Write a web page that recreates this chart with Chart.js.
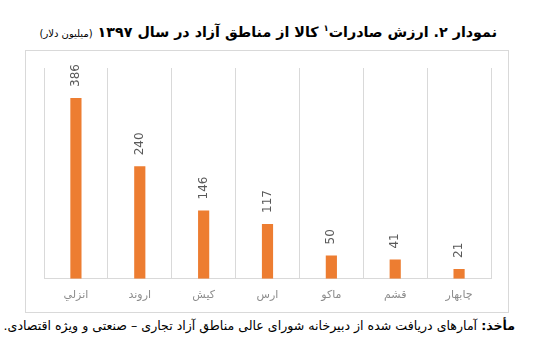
<!DOCTYPE html>
<html lang="fa">
<head>
    <meta charset="UTF-8">
    <title>ارزش صادرات کالا از مناطق آزاد</title>
    <script src="https://cdn.jsdelivr.net/npm/chart.js"></script>
    <style>
        body {
            margin: 0;
            padding: 0;
            background: white;
            width: 539px;
            height: 353px;
            position: relative;
            overflow: hidden;
            font-family: "DejaVu Sans", sans-serif;
        }
        .line {
            position: absolute;
            direction: rtl;
            white-space: nowrap;
            color: #000;
            line-height: 1;
        }
        #title {
            top: 24px;
            right: 42px;
            font-size: 14px;
            font-weight: bold;
        }
        #title .unit {
            font-size: 0.7em;
            font-weight: normal;
        }
        #title sup {
            font-size: 0.6em;
        }
        #chart-box {
            position: absolute;
            left: 25px;
            top: 50px;
            width: 482px;
            height: 261px;
            border: 1px solid #d9d9d9;
        }
        #source {
            top: 320px;
            right: 24px;
            font-size: 12.5px;
        }
    </style>
</head>
<body>
    <div id="title" class="line">نمودار ۲. ارزش صادرات<sup>۱</sup> کالا از مناطق آزاد در سال ۱۳۹۷ <span class="unit">(میلیون دلار)</span></div>

    <div id="chart-box">
        <canvas id="export-chart" width="482" height="261"></canvas>
    </div>

    <div id="source" class="line"><b>مأخذ:</b> آمارهای دریافت شده از دبیرخانه شورای عالی مناطق آزاد تجاری – صنعتی و ویژه اقتصادی.</div>

    <script>
        // free zones, left to right as in the picture
        var zones = ['انزلي', 'اروند', 'کیش', 'ارس', 'ماکو', 'قشم', 'چابهار'];
        // export value, million dollars
        var exportValues = [386, 240, 146, 117, 50, 41, 21];

        // squeeze a line of text to a given width
        function fitWidth(el, target) {
            var size = parseFloat(getComputedStyle(el).fontSize);
            var w = el.getBoundingClientRect().width;
            el.style.fontSize = (size * target / w) + 'px';
        }
        fitWidth(document.getElementById('title'), 458);
        fitWidth(document.getElementById('source'), 512);

        // rotated value labels above each bar
        var barLabels = {
            id: 'barLabels',
            afterDatasetsDraw: function (chart) {
                var ctx = chart.ctx;
                var meta = chart.getDatasetMeta(0);
                ctx.save();
                ctx.fillStyle = '#595959';
                ctx.font = '12px "DejaVu Sans"';
                ctx.textAlign = 'left';
                ctx.textBaseline = 'middle';
                meta.data.forEach(function (bar, i) {
                    ctx.save();
                    ctx.translate(bar.x, bar.y - 11);
                    ctx.rotate(-Math.PI / 2);
                    ctx.fillText(String(exportValues[i]), 0, 0);
                    ctx.restore();
                });
                ctx.restore();
            }
        };

        var ctx = document.getElementById('export-chart').getContext('2d');
        new Chart(ctx, {
            type: 'bar',
            data: {
                labels: zones,
                datasets: [{
                    data: exportValues,
                    backgroundColor: '#ed7d31',
                    barPercentage: 1,
                    categoryPercentage: 0.175
                }]
            },
            options: {
                responsive: false,
                animation: false,
                layout: {
                    padding: { left: 18, right: 17, top: 17, bottom: 0 }
                },
                plugins: {
                    legend: { display: false },
                    tooltip: { enabled: false }
                },
                scales: {
                    x: {
                        grid: {
                            offset: true,
                            color: '#d9d9d9',
                            drawTicks: false
                        },
                        border: { color: '#d9d9d9' },
                        ticks: {
                            color: '#8c8c8c',
                            padding: 10,
                            font: { family: 'DejaVu Sans', size: 11 }
                        }
                    },
                    y: {
                        display: false,
                        min: 0,
                        max: 450
                    }
                }
            },
            plugins: [barLabels]
        });
    </script>
</body>
</html>
